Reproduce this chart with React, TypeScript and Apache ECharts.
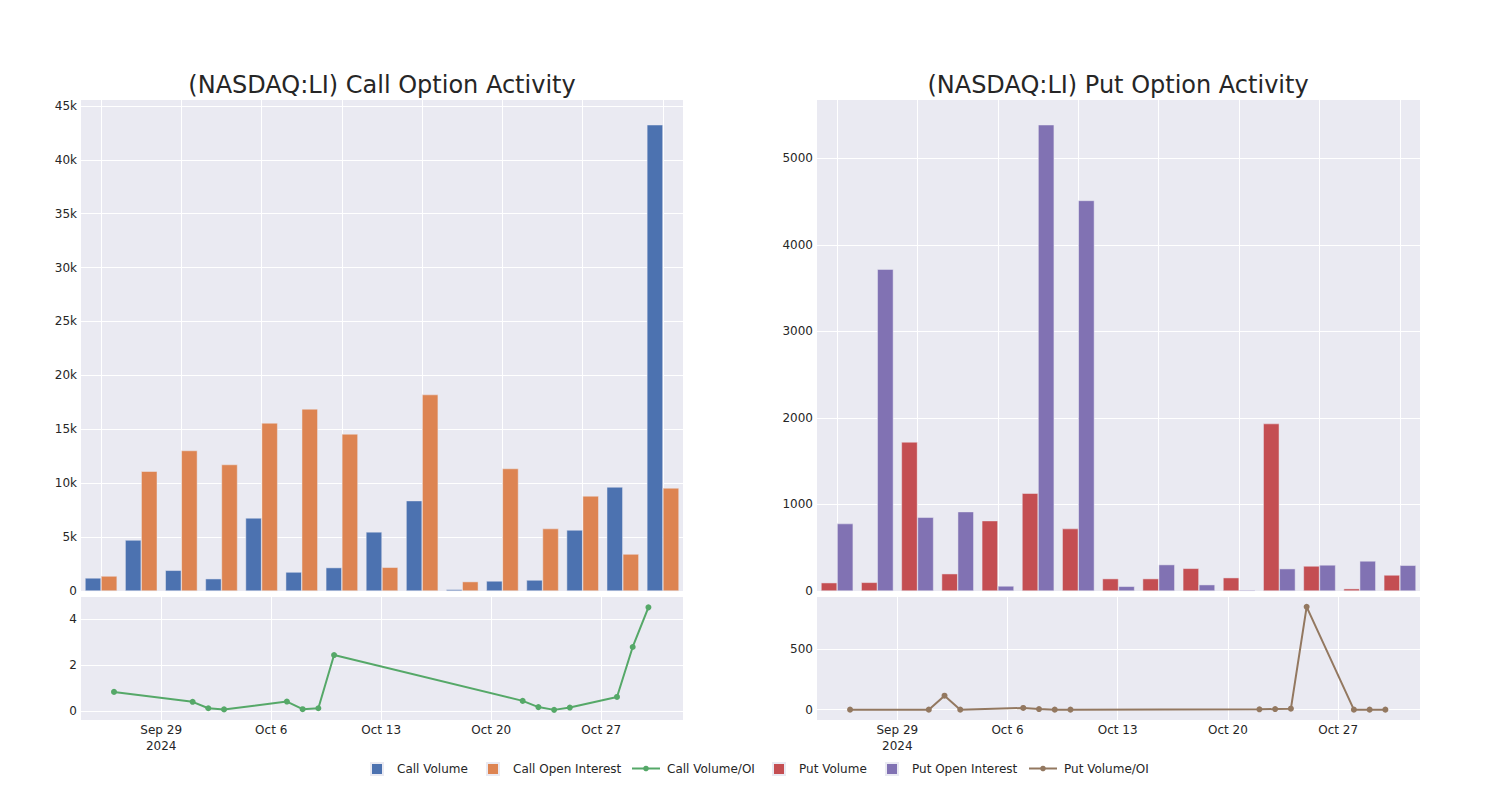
import React, { useEffect, useRef } from 'react';
import * as echarts from 'echarts';

const dates = ['2024-09-26', '2024-10-01', '2024-10-02', '2024-10-03', '2024-10-07', '2024-10-08', '2024-10-09', '2024-10-10', '2024-10-22', '2024-10-23', '2024-10-24', '2024-10-25', '2024-10-28', '2024-10-29', '2024-10-30'];
const callVolume = [1210, 4730, 1920, 1140, 6780, 1760, 2170, 5480, 8380, 150, 930, 1020, 5660, 9650, 43250];
const callOI = [1390, 11110, 13030, 11730, 15590, 16890, 14570, 2200, 18220, 870, 11360, 5790, 8820, 3430, 9560];
const callRatio = [0.85, 0.42, 0.14, 0.09, 0.43, 0.1, 0.14, 2.45, 0.46, 0.19, 0.07, 0.17, 0.63, 2.8, 4.52];
const putVolume = [96, 100, 1723, 200, 813, 1130, 721, 143, 143, 262, 154, 1935, 289, 27, 185];
const putOI = [779, 3720, 852, 917, 58, 5389, 4514, 54, 305, 73, 12, 258, 301, 347, 297];
const putRatio = [0, 0, 116, 0, 14, 5, 0, 0, 3, 5, 8, 854, 0, 0, 0];
const callYTicks = [0, 5000, 10000, 15000, 20000, 25000, 30000, 35000, 40000, 45000];
const putYTicks = [0, 1000, 2000, 3000, 4000, 5000];
const callRatioTicks = [0, 2, 4];
const putRatioTicks = [0, 500];
const dateTicks = ['2024-09-29', '2024-10-06', '2024-10-13', '2024-10-20', '2024-10-27'];
const months = ['Jan', 'Feb', 'Mar', 'Apr', 'May', 'Jun', 'Jul', 'Aug', 'Sep', 'Oct', 'Nov', 'Dec'];

const DAY = 86400000;
const toUTC = (s: string) => {
  const [y, m, d] = s.split('-').map(Number);
  return Date.UTC(y, m - 1, d);
};
const BASE = toUTC(dateTicks[0]);
const dayOf = (s: string) => (toUTC(s) - BASE) / DAY;
const dateLabel = (v: number) => {
  const dt = new Date(BASE + Math.round(v) * DAY);
  const s = months[dt.getUTCMonth()] + ' ' + dt.getUTCDate();
  return Math.round(v) === 0 ? s + '\n' + dt.getUTCFullYear() : s;
};

const FONT = 'DejaVu Sans';
const TXT = '#262626';
const BG = '#EAEAF2';
const COLORS = {
  callVol: '#4C72B0',
  callOI: '#DD8452',
  callRatio: '#55A868',
  putVol: '#C44E52',
  putOI: '#8172B3',
  putRatio: '#937860',
};

const kFmt = (v: number) => (v === 0 ? '0' : v / 1000 + 'k');

export default function App() {
  const ref = useRef<HTMLDivElement>(null);
  useEffect(() => {
    if (!ref.current) return;
    const chart = echarts.init(ref.current, undefined, { renderer: 'svg' });

    const grids = [
      { left: 81, top: 100, width: 602, height: 491 },
      { left: 81, top: 597, width: 602, height: 123 },
      { left: 817, top: 100, width: 603, height: 491 },
      { left: 817, top: 597, width: 603, height: 123 },
    ].map((g) => ({ ...g, show: true, backgroundColor: BG, borderWidth: 0, containLabel: false }));

    const splitLine = { show: true, lineStyle: { color: '#ffffff', width: 1 } };
    const labelStyle = { color: TXT, fontSize: 12, fontFamily: FONT };

    const catAxis = (gridIndex: number) => ({
      type: 'category',
      gridIndex,
      data: dates,
      boundaryGap: true,
      axisLine: { show: false },
      axisTick: { show: false, alignWithLabel: true, interval: 1 },
      axisLabel: { show: false },
      splitLine: { ...splitLine, interval: 1, alignWithLabel: true },
    });
    const dateAxis = (gridIndex: number) => ({
      type: 'value',
      gridIndex,
      min: -5.1,
      max: 33.2,
      axisLine: { show: false },
      axisTick: { show: false, customValues: dateTicks.map(dayOf) },
      axisLabel: { ...labelStyle, customValues: dateTicks.map(dayOf), formatter: dateLabel, lineHeight: 16, margin: 2 },
      splitLine,
    });
    const valAxis = (gridIndex: number, min: number, max: number, ticks: number[], fmt?: (v: number) => string) => ({
      type: 'value',
      gridIndex,
      min,
      max,
      axisLine: { show: false },
      axisTick: { show: false, customValues: ticks },
      axisLabel: { ...labelStyle, customValues: ticks, margin: 4, formatter: fmt || ((v: number) => String(v)) },
      splitLine,
    });

    const barStyle = (color: string) => ({ color, borderColor: BG, borderWidth: 0.5 });

    const legendItem = (name: string, left: number, line: boolean) => ({
      show: true,
      data: [name],
      left,
      top: line ? 762.5 : 762,
      padding: 0,
      itemWidth: line ? 28 : 12,
      itemHeight: line ? 7 : 12,
      icon: line ? undefined : 'rect',
      textStyle: { ...labelStyle, padding: [0, 0, 0, line ? 2 : 9] },
    });

    const option = {
      animation: false,
      title: [
        { text: '(NASDAQ:LI) Call Option Activity', left: 382, top: 73, textAlign: 'center', padding: 0, textStyle: { fontFamily: FONT, fontSize: 24, fontWeight: 'normal', color: TXT } },
        { text: '(NASDAQ:LI) Put Option Activity', left: 1118, top: 73, textAlign: 'center', padding: 0, textStyle: { fontFamily: FONT, fontSize: 24, fontWeight: 'normal', color: TXT } },
      ],
      legend: [
        legendItem('Call Volume', 370, false),
        legendItem('Call Open Interest', 486, false),
        legendItem('Call Volume/OI', 631, true),
        legendItem('Put Volume', 772, false),
        legendItem('Put Open Interest', 885, false),
        legendItem('Put Volume/OI', 1028, true),
      ],
      grid: grids,
      xAxis: [catAxis(0), dateAxis(1), catAxis(2), dateAxis(3)],
      yAxis: [
        valAxis(0, 0, 45545, callYTicks, kFmt),
        valAxis(1, -0.37, 4.97, callRatioTicks),
        valAxis(2, 0, 5675, putYTicks),
        valAxis(3, -86, 936, putRatioTicks),
      ],
      series: [
        { name: 'Call Volume', type: 'bar', xAxisIndex: 0, yAxisIndex: 0, data: callVolume, barCategoryGap: '20%', barGap: '0%', itemStyle: barStyle(COLORS.callVol) },
        { name: 'Call Open Interest', type: 'bar', xAxisIndex: 0, yAxisIndex: 0, data: callOI, barCategoryGap: '20%', barGap: '0%', itemStyle: barStyle(COLORS.callOI) },
        {
          name: 'Call Volume/OI', type: 'line', xAxisIndex: 1, yAxisIndex: 1,
          data: dates.map((d, i) => [dayOf(d), callRatio[i]]),
          symbol: 'circle', symbolSize: 6, showAllSymbol: true,
          lineStyle: { color: COLORS.callRatio, width: 2 }, itemStyle: { color: COLORS.callRatio },
        },
        { name: 'Put Volume', type: 'bar', xAxisIndex: 2, yAxisIndex: 2, data: putVolume, barCategoryGap: '20%', barGap: '0%', itemStyle: barStyle(COLORS.putVol) },
        { name: 'Put Open Interest', type: 'bar', xAxisIndex: 2, yAxisIndex: 2, data: putOI, barCategoryGap: '20%', barGap: '0%', itemStyle: barStyle(COLORS.putOI) },
        {
          name: 'Put Volume/OI', type: 'line', xAxisIndex: 3, yAxisIndex: 3,
          data: dates.map((d, i) => [dayOf(d), putRatio[i]]),
          symbol: 'circle', symbolSize: 6, showAllSymbol: true,
          lineStyle: { color: COLORS.putRatio, width: 2 }, itemStyle: { color: COLORS.putRatio },
        },
      ],
    };
    chart.setOption(option as any);
    return () => chart.dispose();
  }, []);
  return <div ref={ref} style={{ position: 'fixed', left: 0, top: 0, width: 1500, height: 800, background: '#ffffff' }} />;
}
